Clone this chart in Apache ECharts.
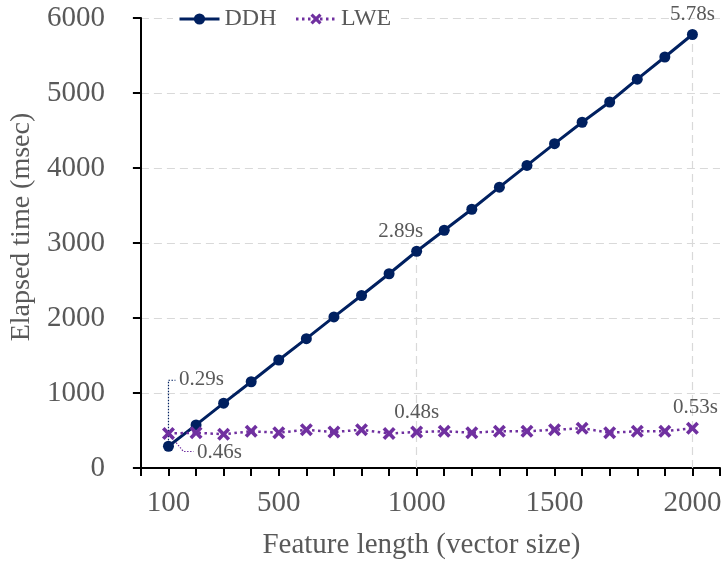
<!DOCTYPE html>
<html>
<head>
<meta charset="utf-8">
<script src="https://cdn.jsdelivr.net/npm/echarts@6/dist/echarts.min.js"></script>
<style>html,body{margin:0;padding:0;background:#fff;}#main{width:725px;height:566px;}</style>
</head>
<body>
<div id="main"></div>
<script>
// ---- data ----
const featureLengths = [100,200,300,400,500,600,700,800,900,1000,1100,1200,1300,1400,1500,1600,1700,1800,1900,2000];
const ddhMs = [290,575,865,1150,1440,1725,2015,2300,2590,2890,3170,3450,3745,4035,4325,4610,4880,5185,5480,5780];
const lweMs = [460,470,450,490,470,510,480,510,460,480,490,470,490,490,510,530,470,490,490,530];
const xTickLabels = [100,500,1000,1500,2000];
const yTickLabels = [0,1000,2000,3000,4000,5000,6000];
const seriesNames = ['DDH','LWE'];
const dropLineAt = [1000, 2000];

const FONT = '"Liberation Serif", "Times New Roman", serif';
const GREY = '#595959';
const NAVY = '#002060';
const PURPLE = '#7030A0';
const X_SYMBOL = 'path://M2,0 L5,3 L8,0 L10,2 L7,5 L10,8 L8,10 L5,7 L2,10 L0,8 L3,5 L0,2 Z';

const fmtSec = p => (p.value[1] / 1000).toFixed(2) + 's';
const labelStyle = { show: true, color: GREY, fontFamily: FONT, fontSize: 21, formatter: fmtSec };

const ddhLabels = {
  0: { position: 'right', distance: 5, offset: [0, -67] },
  9: { position: 'top', distance: 4, offset: [-16, 0] },
  19: { position: 'top', distance: 4, offset: [0, 0] }
};
const lweLabels = {
  0: { position: 'right', distance: 5, offset: [17, 19] },
  9: { position: 'top', distance: 3, offset: [0, 0] },
  19: { position: 'top', distance: 4, offset: [3, 0] }
};

function buildData(vals, labels) {
  return featureLengths.map((x, i) => {
    const item = { value: [x, vals[i]] };
    if (labels[i]) item.label = Object.assign({}, labelStyle, labels[i]);
    return item;
  });
}

const chart = echarts.init(document.getElementById('main'), null, { renderer: 'canvas' });

const option = {
  animation: false,
  backgroundColor: '#ffffff',
  grid: { left: 140, right: 5, top: 18, bottom: 98, containLabel: false },
  legend: {
    data: seriesNames,
    left: 173, top: 5,
    padding: [2, 5],
    backgroundColor: '#ffffff',
    itemWidth: 40, itemHeight: 14, itemGap: 18,
    lineStyle: { width: 3 },
    textStyle: { color: GREY, fontFamily: FONT, fontSize: 24, padding: [0, 0, 0, 0] }
  },
  xAxis: {
    type: 'value', min: 0, max: 2100, interval: 100,
    name: 'Feature length (vector size)',
    nameLocation: 'middle', nameGap: 63,
    nameTextStyle: { color: GREY, fontFamily: FONT, fontSize: 29, padding: [0, 18, 0, 0] },
    axisLine: { show: true, lineStyle: { color: '#000', width: 2 } },
    axisTick: { show: true, inside: false, length: 8, lineStyle: { color: '#000', width: 2 } },
    axisLabel: {
      color: GREY, fontFamily: FONT, fontSize: 29, margin: 21,
      showMinLabel: true, showMaxLabel: true,
      formatter: v => xTickLabels.indexOf(v) >= 0 ? String(v) : ''
    },
    splitLine: { show: false }
  },
  yAxis: {
    type: 'value', min: 0, max: 6000, interval: 1000,
    name: 'Elapsed time (msec)',
    nameLocation: 'middle', nameGap: 100,
    nameTextStyle: { color: GREY, fontFamily: FONT, fontSize: 28, padding: [0, 0, 0, 32] },
    axisLine: { show: true, lineStyle: { color: '#000', width: 2 } },
    axisTick: { show: true, inside: false, length: 8, lineStyle: { color: '#000', width: 2 } },
    axisLabel: {
      color: GREY, fontFamily: FONT, fontSize: 29, margin: 36,
      formatter: v => yTickLabels.indexOf(v) >= 0 ? String(v) : ''
    },
    splitLine: { show: true, lineStyle: { color: '#d9d9d9', width: 1.2, type: [8, 5] } }
  },
  series: [
    {
      name: seriesNames[0], type: 'line',
      data: buildData(ddhMs, ddhLabels),
      symbol: 'circle', symbolSize: 11,
      lineStyle: { color: NAVY, width: 3 },
      itemStyle: { color: NAVY },
      z: 3,
      markLine: {
        silent: true, symbol: ['none', 'none'], label: { show: false },
        lineStyle: { color: '#d9d9d9', width: 1.2, type: [8, 5] },
        z: 1,
        data: dropLineAt.map(x => {
          const i = featureLengths.indexOf(x);
          return [{ coord: [x, 0] }, { coord: [x, ddhMs[i]] }];
        })
      }
    },
    {
      name: seriesNames[1], type: 'line',
      data: buildData(lweMs, lweLabels),
      symbol: X_SYMBOL, symbolSize: 13,
      lineStyle: { color: PURPLE, width: 2.5, type: [2.5, 3.5] },
      itemStyle: { color: PURPLE },
      z: 4
    }
  ]
};

chart.setOption(option);

// leader lines for the two labels at x=100, anchored to data points through the axes
const pD = chart.convertToPixel({ gridIndex: 0 }, [featureLengths[0], ddhMs[0]]);
const pL = chart.convertToPixel({ gridIndex: 0 }, [featureLengths[0], lweMs[0]]);
const ddhLabelY = pD[1] + ddhLabels[0].offset[1];
chart.setOption({
  graphic: [
    {
      type: 'polyline', z: 2, silent: true,
      shape: { points: [[pD[0], pD[1]], [pD[0], ddhLabelY + 1], [pD[0] + 7, ddhLabelY + 1]] },
      style: { stroke: NAVY, lineWidth: 1.2, lineDash: [1.5, 1.5], fill: null }
    },
    {
      type: 'polyline', z: 2, silent: true,
      shape: { points: [[pL[0], pL[1]], [pL[0] + 15, pL[1] + 18], [pL[0] + 25, pL[1] + 18]] },
      style: { stroke: PURPLE, lineWidth: 1.2, lineDash: [1.5, 1.5], fill: null }
    }
  ]
});
</script>
</body>
</html>
